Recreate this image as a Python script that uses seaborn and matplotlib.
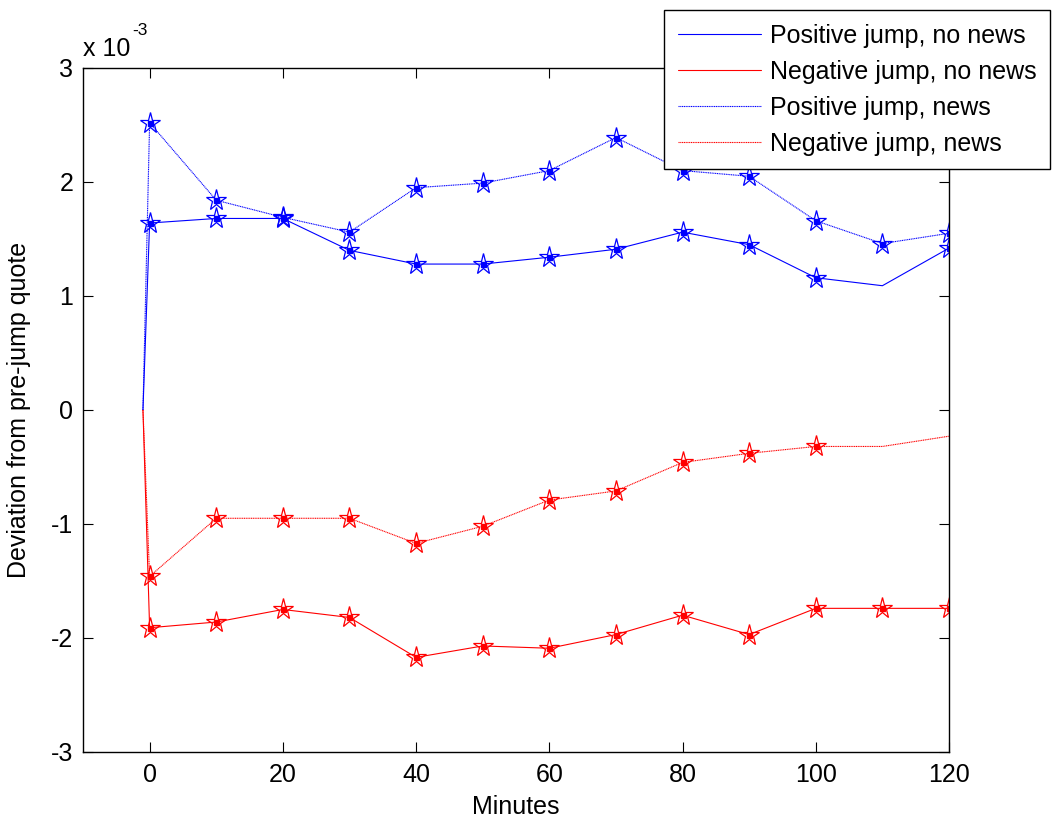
import matplotlib
matplotlib.use("Agg")
import matplotlib.pyplot as plt
import seaborn as sns
import numpy as np

# ---- data (deviation in units of 1e-3) ----
minutes = [-1, 0, 10, 20, 30, 40, 50, 60, 70, 80, 90, 100, 110, 120]

pos_nonews = [0, 1.64, 1.68, 1.68, 1.40, 1.28, 1.28, 1.34, 1.41, 1.56, 1.45, 1.16, 1.09, 1.42]
neg_nonews = [0, -1.91, -1.86, -1.75, -1.82, -2.17, -2.07, -2.09, -1.97, -1.80, -1.97, -1.74, -1.74, -1.74]
pos_news = [0, 2.52, 1.84, 1.69, 1.56, 1.95, 1.99, 2.10, 2.39, 2.10, 2.05, 1.66, 1.46, 1.55]
neg_news = [0, -1.46, -0.95, -0.95, -0.95, -1.17, -1.02, -0.79, -0.71, -0.46, -0.38, -0.32, -0.32, -0.23]

# significance flags (star markers)
sig_pos_nonews = [0, 1, 1, 1, 1, 1, 1, 1, 1, 1, 1, 1, 0, 1]
sig_neg_nonews = [0, 1, 1, 1, 1, 1, 1, 1, 1, 1, 1, 1, 1, 1]
sig_pos_news = [0, 1, 1, 1, 1, 1, 1, 1, 1, 1, 1, 1, 1, 1]
sig_neg_news = [0, 1, 1, 1, 1, 1, 1, 1, 1, 1, 1, 1, 0, 0]

labels = ["Positive jump, no news", "Negative jump, no news",
          "Positive jump, news", "Negative jump, news"]
x_ticks = [0, 20, 40, 60, 80, 100, 120]
y_ticks = [-3, -2, -1, 0, 1, 2, 3]

sns.set_style("white")
plt.rcParams['font.family'] = ['Liberation Sans', 'DejaVu Sans']
plt.rcParams['axes.unicode_minus'] = False
plt.rcParams['text.color'] = 'black'
plt.rcParams['axes.labelcolor'] = 'black'
plt.rcParams['xtick.color'] = 'black'
plt.rcParams['ytick.color'] = 'black'

fig = plt.figure(figsize=(10.52, 8.25), dpi=100)
ax = fig.add_axes([0.0789, 0.0885, 0.9021 - 0.0789, 0.9176 - 0.0885])

series = [
    (pos_nonews, sig_pos_nonews, (0, 0, 1), '-'),
    (neg_nonews, sig_neg_nonews, (1, 0, 0), '-'),
    (pos_news, sig_pos_news, (0, 0, 1), (0, (1, 0.6))),
    (neg_news, sig_neg_news, (1, 0, 0), (0, (1, 0.6))),
]

x = np.array(minutes)
for (vals, sig, col, ls), lab in zip(series, labels):
    v = np.array(vals)
    s = np.array(sig, dtype=bool)
    sns.lineplot(x=x, y=v, ax=ax, color=col, linewidth=0.8, linestyle=ls,
                 label=lab, sort=False, estimator=None)
    ax.plot(x[s], v[s], linestyle='none', marker='*', markersize=15.5,
            markerfacecolor='none', markeredgecolor=col, markeredgewidth=0.9)
    ax.plot(x[s], v[s], linestyle='none', marker='s', markersize=3.6,
            color=col)

ax.set_xlim(-10, 120)
ax.set_ylim(-3, 3)
ax.set_xticks(x_ticks)
ax.set_yticks(y_ticks)
ax.set_yticklabels([str(t) for t in y_ticks])
ax.tick_params(direction='in', length=7, width=0.8, labelsize=18,
               top=True, right=True, left=True, bottom=True, colors='black')
ax.tick_params(axis='x', pad=8)
ax.tick_params(axis='y', pad=7)
for sp in ax.spines.values():
    sp.set_visible(True)
    sp.set_color('black')
    sp.set_linewidth(1.0)

ax.set_xlabel("Minutes", fontsize=18, labelpad=6, color='black')
ax.set_ylabel("Deviation from pre-jump quote", fontsize=18, labelpad=14,
              color='black')
base = ax.text(0.0, 1.010, "x 10", transform=ax.transAxes, fontsize=18,
               ha='left', va='bottom', color='black')
ax.annotate("-3", xy=(1.0, 0.95), xycoords=base, fontsize=12.5,
            ha='left', va='bottom', xytext=(1, 0), textcoords='offset points',
            color='black')

leg = ax.legend(loc='upper right', bbox_to_anchor=(0.998, 0.988),
                bbox_transform=fig.transFigure, fontsize=18, frameon=True,
                fancybox=False, framealpha=1, edgecolor='black',
                handlelength=3.3, handletextpad=0.36, labelspacing=0.48,
                borderpad=0.55, borderaxespad=0)
leg.get_frame().set_linewidth(1.0)
leg.set_zorder(10)
for t in leg.get_texts():
    t.set_color('black')

fig.savefig("out.png", dpi=100)
